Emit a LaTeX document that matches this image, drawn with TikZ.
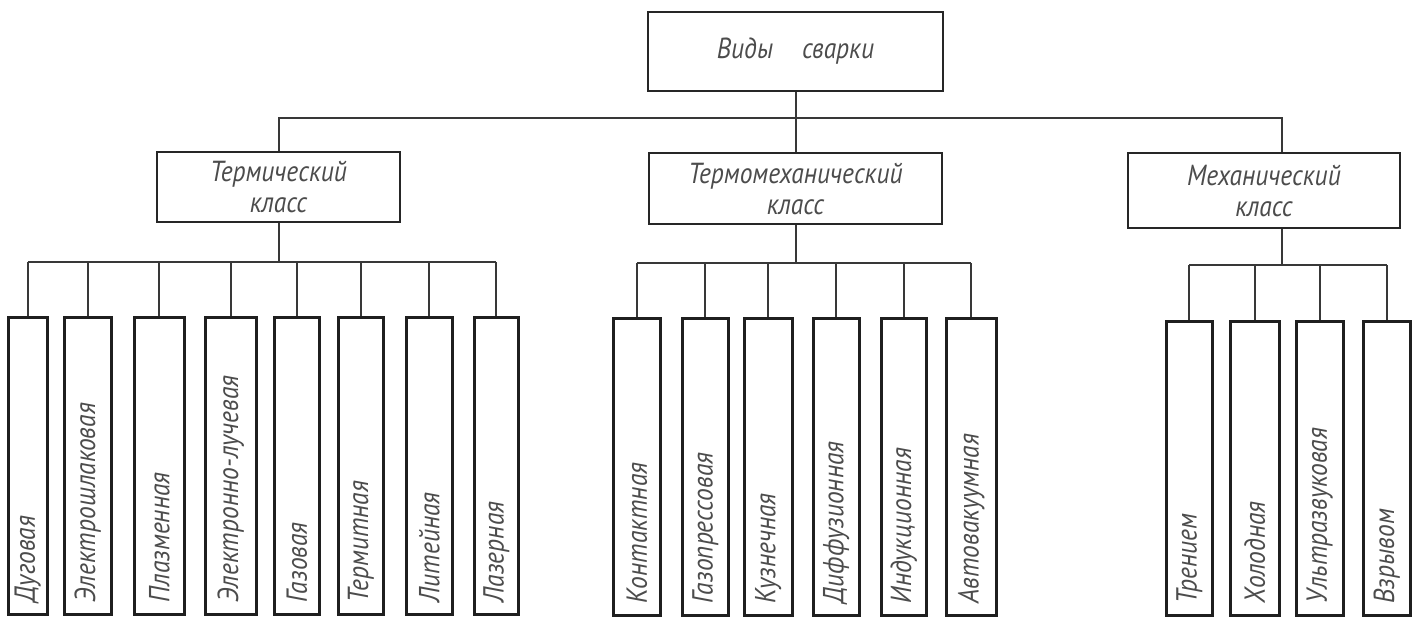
\documentclass[tikz,border=0pt]{standalone}
\usepackage{fontspec}
\setmainfont{PT Sans}[FakeStretch=0.88]
\begin{document}
\begin{tikzpicture}[x=1pt,y=-1pt,
  every node/.style={font=\fontsize{29}{31}\selectfont\itshape, text=black!70},
  box/.style={draw=black!85, line width=2.2pt, inner sep=0pt, align=center},
  sub/.style={draw=black!88, line width=2.6pt, rotate=90, anchor=north east,
    minimum height=#1, text width=273pt, inner xsep=12pt, inner ysep=0pt, align=left},
  wire/.style={draw=black!78, line width=2pt}]
\useasboundingbox (0,0) rectangle (1420,616);
% top level
\node[box, minimum width=295, minimum height=79] (root) at (795.5,51.5) {Виды\quad сварки};
\node[box, minimum width=243, minimum height=70] (T) at (278.5,187) {Термический\\класс};
\node[box, minimum width=293, minimum height=71] (TM) at (795.5,188.5) {Термомеханический\\класс};
\node[box, minimum width=272, minimum height=75] (M) at (1264,190.5) {Механический\\класс};
% thermal
\node[sub=39] (t1) at (7,316) {Дуговая};
\node[sub=47] (t2) at (63,316) {Электрошлаковая};
\node[sub=50] (t3) at (133,316) {Плазменная};
\node[sub=51] (t4) at (204,316) {Электронно-лучевая};
\node[sub=45] (t5) at (273,316) {Газовая};
\node[sub=45] (t6) at (337,316) {Термитная};
\node[sub=46] (t7) at (405,316) {Литейная};
\node[sub=44] (t8) at (473,316) {Лазерная};
% thermomechanical
\node[sub=47] (h1) at (612,317) {Контактная};
\node[sub=46] (h2) at (681,317) {Газопрессовая};
\node[sub=48] (h3) at (743,317) {Кузнечная};
\node[sub=46] (h4) at (812,317) {Диффузионная};
\node[sub=45] (h5) at (880,317) {Индукционная};
\node[sub=50] (h6) at (945,317) {Автовакуумная};
% mechanical
\node[sub=46, text width=270pt] (m1) at (1165,320) {Трением};
\node[sub=49, text width=270pt] (m2) at (1229,320) {Холодная};
\node[sub=47, text width=270pt] (m3) at (1295,320) {Ультразвуковая};
\node[sub=47, text width=270pt] (m4) at (1362,320) {Взрывом};
% connectors, upper level
\coordinate (bus) at (0,118);
\coordinate (Mn) at ([xshift=18pt]M.north);
\coordinate (Ms) at ([xshift=18pt]M.south);
\draw[wire] (root.south) -- (TM.north);
\draw[wire] (T.north) -- (T.north |- bus) -- (bus -| Mn) -- (Mn);
% thermal bus
\coordinate (tb) at (0,262);
\draw[wire] (T.south) -- (T.south |- tb);
\draw[wire] (tb -| t1.east) -- (tb -| t8.east);
\foreach \n in {t1,t2,t3,t4,t5,t6,t7,t8} \draw[wire] (tb -| \n.east) -- (\n.east);
% thermomechanical bus
\coordinate (hb) at (0,263);
\draw[wire] (TM.south) -- (TM.south |- hb);
\draw[wire] (hb -| h1.east) -- (hb -| h6.east);
\foreach \n in {h1,h2,h3,h4,h5,h6} \draw[wire] (hb -| \n.east) -- (\n.east);
% mechanical bus
\coordinate (mb) at (0,265);
\draw[wire] (Ms) -- (Ms |- mb);
\draw[wire] (mb -| m1.east) -- (mb -| m4.east);
\foreach \n in {m1,m2,m3,m4} \draw[wire] (mb -| \n.east) -- (\n.east);
\end{tikzpicture}
\end{document}
